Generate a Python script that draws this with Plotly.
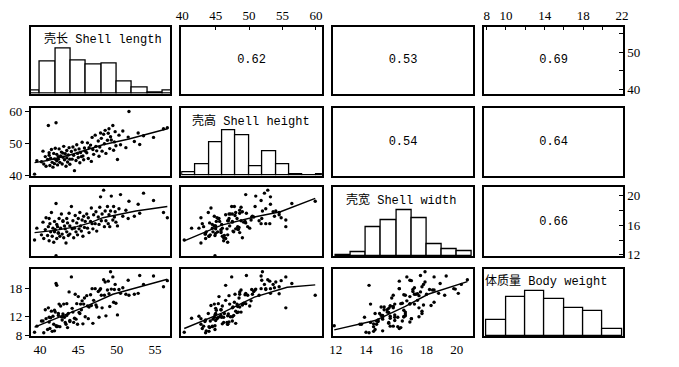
import plotly.graph_objects as go

# ---------------- data ----------------
var_names = ["壳长 Shell length", "壳高 Shell height", "壳宽 Shell width", "体质量 Body weight"]

shell_length = [39.3,39.6,40.2,40.4,40.5,40.7,40.8,41.0,41.1,41.2,41.3,41.4,41.5,41.6,41.7,41.8,41.9,41.9,42.0,41.2,
                42.1,42.1,42.2,42.2,42.3,42.4,42.5,42.6,42.7,42.8,42.9,43.0,43.1,43.2,43.3,43.4,43.5,43.5,43.6,43.7,43.8,43.9,43.9,43.0,42.4,
                44.1,44.2,44.3,44.4,44.5,44.6,44.7,44.8,44.9,45.0,45.1,45.2,45.3,45.5,45.6,45.7,45.8,45.9,45.4,
                46.1,46.2,46.3,46.4,46.6,46.7,46.8,46.9,47.0,47.2,47.3,47.4,47.6,47.7,47.8,47.9,
                48.0,48.1,48.3,48.4,48.5,48.6,48.8,48.9,49.0,49.1,49.2,49.3,49.5,49.6,49.7,49.8,49.9,
                50.1,50.3,50.5,50.8,51.2,51.5,51.6,
                52.3,52.8,53.0,53.5,
                54.8,
                56.1,56.6]

shell_height = [40.3,44.5,44.2,47.5,43.5,45.8,42.8,44.9,55.5,46.2,43.0,45.3,48.0,44.0,42.5,46.8,45.1,43.6,48.4,47.0,
                56.4,44.9,44.5,46.5,43.2,45.0,48.2,44.0,46.0,47.2,43.5,45.6,49.0,44.8,46.7,42.8,45.4,47.7,44.1,46.3,48.6,45.0,43.4,46.9,45.8,
                47.4,45.0,48.8,46.2,41.4,47.9,44.6,49.5,46.8,45.5,48.2,43.9,47.1,50.3,46.0,44.8,48.5,47.5,45.8,
                47.0,50.1,45.2,48.6,49.4,44.3,51.8,48.0,46.5,52.5,49.0,47.6,50.7,45.9,48.8,53.2,
                51.5,47.5,52.8,49.8,54.0,46.8,50.9,53.1,54.5,48.3,52.0,51.0,55.5,47.8,50.4,53.6,49.2,
                44.9,52.5,49.5,53.8,48.6,51.9,59.9,
                50.5,53.2,49.6,52.3,
                51.8,
                54.5,54.8]

shell_width = [14.0,15.6,14.7,16.4,14.2,15.4,17.0,14.6,15.8,13.9,16.2,15.1,17.7,14.5,15.6,13.7,16.5,15.1,15.4,16.9,
               18.9,11.9,16.1,14.2,15.8,14.9,16.9,14.5,15.6,17.5,14.8,16.5,14.3,15.9,15.5,13.6,16.9,15.1,16.3,14.6,17.6,15.9,14.8,16.6,15.0,
               18.5,15.5,16.6,14.3,15.6,17.3,15.1,16.3,14.7,16.9,15.5,17.7,15.9,16.7,14.5,17.2,15.7,16.5,15.2,
               17.5,15.6,17.0,15.0,16.5,18.3,16.2,15.5,17.4,16.2,17.8,15.2,17.1,16.1,18.4,19.8,
               16.6,17.5,20.7,15.8,17.9,16.6,18.5,16.2,17.4,15.8,17.9,19.9,16.7,18.5,17.1,17.8,16.4,
               15.9,18.2,20.1,17.2,18.0,16.9,19.2,
               17.2,18.8,17.6,20.3,
               19.3,
               17.7,17.0]

body_weight = [8.6,9.9,11.0,11.0,8.5,13.4,11.5,9.2,13.8,11.8,9.4,11.7,13.1,8.8,12.0,10.3,13.3,8.9,12.9,10.8,
               19.0,10.0,9.8,18.6,9.9,12.6,14.6,9.8,14.2,11.9,11.2,11.9,14.6,11.8,10.7,10.3,14.7,12.2,9.6,12.6,17.2,11.1,10.9,12.5,12.2,
               20.4,13.7,12.9,10.7,11.6,16.7,11.4,14.7,10.3,16.2,12.8,12.6,14.6,15.3,10.4,14.6,15.9,11.9,13.4,
               16.4,14.2,11.5,14.0,16.6,14.3,17.9,10.5,15.4,17.9,14.4,14.0,17.3,11.8,17.6,17.9,
               16.5,13.8,19.8,16.5,19.3,12.1,17.6,19.5,16.8,14.1,21.5,17.8,20.4,15.0,17.7,18.8,14.8,
               12.3,17.7,16.9,18.1,16.7,19.7,16.5,
               16.7,16.9,20.7,18.8,
               20.6,
               18.3,19.6]

assert len(shell_length) == len(shell_height) == len(shell_width) == len(body_weight)

# histograms (bin start, bin width, counts)
length_bin_start, length_bin_width = 38, 2
length_counts = [2, 20, 28, 21, 18, 19, 8, 4, 1, 2]
height_bin_start, height_bin_width = 40, 2
height_counts = [2, 7, 21, 28, 25, 6, 15, 7, 1, 0, 1]
width_bin_start, width_bin_width = 12, 1
width_counts = [1, 3, 21, 26, 33, 27, 9, 5, 4]
weight_bin_start, weight_bin_width = 8, 2
weight_counts = [9, 22, 25, 21, 16, 14, 4]

# correlation coefficients (upper panels)
corr_values = {(0, 1): "0.62", (0, 2): "0.53", (0, 3): "0.69",
               (1, 2): "0.54", (1, 3): "0.64", (2, 3): "0.66"}

# smoothed (lowess) curves in lower panels
smooth_h_vs_l_x = [39.3, 41.0, 43.9, 45.6, 48.2, 51.6, 54.2, 56.6]
smooth_h_vs_l_y = [43.9, 44.6, 46.3, 47.5, 49.5, 51.3, 53.0, 54.5]
smooth_w_vs_l_x = [39.3, 42.0, 44.8, 46.5, 48.2, 52.5, 56.6]
smooth_w_vs_l_y = [15.0, 15.3, 15.8, 16.3, 17.0, 17.9, 18.5]
smooth_wt_vs_l_x = [39.3, 43.9, 46.0, 49.5, 52.5, 56.6]
smooth_wt_vs_l_y = [9.7, 12.7, 14.1, 16.7, 18.1, 19.9]
smooth_w_vs_h_x = [40.3, 45.9, 50.8, 54.7, 59.9]
smooth_w_vs_h_y = [13.9, 16.0, 17.1, 17.8, 19.6]
smooth_wt_vs_h_x = [40.3, 45.9, 50.8, 55.7, 59.9]
smooth_wt_vs_h_y = [9.4, 12.7, 16.1, 18.2, 18.7]
smooth_wt_vs_w_x = [11.9, 14.6, 16.6, 18.1, 20.7]
smooth_wt_vs_w_y = [9.1, 11.1, 14.1, 16.7, 19.4]

# ---------------- layout helpers ----------------
W_PX, H_PX = 679, 367
OFF = 8  # page body margin in the browser
col_px = [(26, 168), (179, 322), (333, 476), (487, 628)]
row_px = [(20, 90), (105, 175), (187, 259), (272, 342)]
ranges = [[38.8, 57.0], [39.85, 60.9], [11.8, 21.1], [7.75, 22.1]]

values = [shell_length, shell_height, shell_width, body_weight]
hists = [(length_bin_start, length_bin_width, length_counts),
         (height_bin_start, height_bin_width, height_counts),
         (width_bin_start, width_bin_width, width_counts),
         (weight_bin_start, weight_bin_width, weight_counts)]
smooths = {(1, 0): (smooth_h_vs_l_x, smooth_h_vs_l_y),
           (2, 0): (smooth_w_vs_l_x, smooth_w_vs_l_y),
           (3, 0): (smooth_wt_vs_l_x, smooth_wt_vs_l_y),
           (2, 1): (smooth_w_vs_h_x, smooth_w_vs_h_y),
           (3, 1): (smooth_wt_vs_h_x, smooth_wt_vs_h_y),
           (3, 2): (smooth_wt_vs_w_x, smooth_wt_vs_w_y)}


def px_x(v):
    return (v - OFF) / W_PX


def px_y(v):
    return 1 - (v - OFF) / H_PX


def dom_x(c):
    a, b = col_px[c]
    return [px_x(a), px_x(b)]


def dom_y(r):
    a, b = row_px[r]
    return [px_y(b), px_y(a)]


tick_font = dict(family="Liberation Serif, DejaVu Serif, serif", size=13, color="black")
text_font = dict(family="Liberation Mono, Noto Sans CJK SC, monospace", size=12, color="black")

fig = go.Figure()
layout = dict(width=W_PX, height=H_PX, margin=dict(l=0, r=0, t=0, b=0, pad=0),
              paper_bgcolor="white", plot_bgcolor="white", showlegend=False)
annotations = []

for r in range(4):
    for c in range(4):
        k = r * 4 + c + 1
        xa = dict(domain=dom_x(c), anchor=f"y{k}", range=ranges[c], showline=True, mirror=True,
                  linecolor="black", linewidth=1.6, showgrid=False, zeroline=False,
                  showticklabels=False, ticks="", tickfont=tick_font, fixedrange=True)
        yr = [0, 1.5] if r == c else ranges[r]
        ya = dict(domain=dom_y(r), anchor=f"x{k}", range=yr, showline=True, mirror=True,
                  linecolor="black", linewidth=1.6, showgrid=False, zeroline=False,
                  showticklabels=False, ticks="", tickfont=tick_font, fixedrange=True)
        layout[f"xaxis{k}"] = xa
        layout[f"yaxis{k}"] = ya

        if r == c:
            start, width, counts = hists[r]
            mx = max(counts)
            fig.add_trace(go.Bar(
                x=[start + width * (i + 0.5) for i in range(len(counts))],
                y=[cnt / mx for cnt in counts], width=width,
                marker=dict(color="white", line=dict(color="black", width=1.3)),
                xaxis=f"x{k}", yaxis=f"y{k}", hoverinfo="skip"))
        elif r > c:
            fig.add_trace(go.Scatter(x=values[c], y=values[r], mode="markers",
                                     marker=dict(color="black", size=3.4),
                                     xaxis=f"x{k}", yaxis=f"y{k}", hoverinfo="skip"))
            sx, sy = smooths[(r, c)]
            fig.add_trace(go.Scatter(x=sx, y=sy, mode="lines",
                                     line=dict(color="black", width=1.4),
                                     xaxis=f"x{k}", yaxis=f"y{k}", hoverinfo="skip"))
        else:
            # invisible trace so the empty panel (frame) is drawn
            fig.add_trace(go.Scatter(x=[sum(ranges[c]) / 2], y=[sum(ranges[r]) / 2], mode="text",
                                     text=[corr_values[(r, c)]], textfont=text_font,
                                     textposition="middle center",
                                     xaxis=f"x{k}", yaxis=f"y{k}", hoverinfo="skip"))

# diagonal labels
label_offsets = [2, -1, -2, -8]
for i, name in enumerate(var_names):
    a, b = col_px[i]
    top = row_px[i][0]
    annotations.append(dict(text=name, xref="paper", yref="paper",
                            x=px_x((a + b) / 2 + label_offsets[i]), y=px_y(top + 13),
                            showarrow=False, font=text_font, xanchor="center", yanchor="middle"))


def set_ticks(axname, side, vals, texts, ticks):
    layout[axname].update(side=side, tickvals=vals, ticktext=texts, showticklabels=True,
                          ticks=ticks, ticklen=4, tickwidth=1.3, tickcolor="black")


set_ticks("xaxis2", "top", [40, 45, 50, 55, 60], ["40", "45", "50", "55", "60"], "inside")
set_ticks("xaxis4", "top", [8, 10, 12, 14, 16, 18, 20, 22], ["8", "10", "", "14", "", "18", "", "22"], "inside")
set_ticks("yaxis4", "right", [40, 45, 50, 55], ["40", "", "50", ""], "inside")
set_ticks("yaxis5", "left", [40, 50, 60], ["40", "50", "60"], "outside")
set_ticks("yaxis12", "right", [12, 14, 16, 18, 20], ["12", "", "16", "", "20"], "inside")
set_ticks("yaxis13", "left", [8, 12, 18], ["8", "12", "18"], "outside")
set_ticks("xaxis13", "bottom", [40, 45, 50, 55], ["40", "45", "50", "55"], "")
set_ticks("xaxis15", "bottom", [12, 14, 16, 18, 20], ["12", "14", "16", "18", "20"], "")

layout["annotations"] = annotations
layout["bargap"] = 0
fig.update_layout(**layout)
fig.write_html("out.html")
